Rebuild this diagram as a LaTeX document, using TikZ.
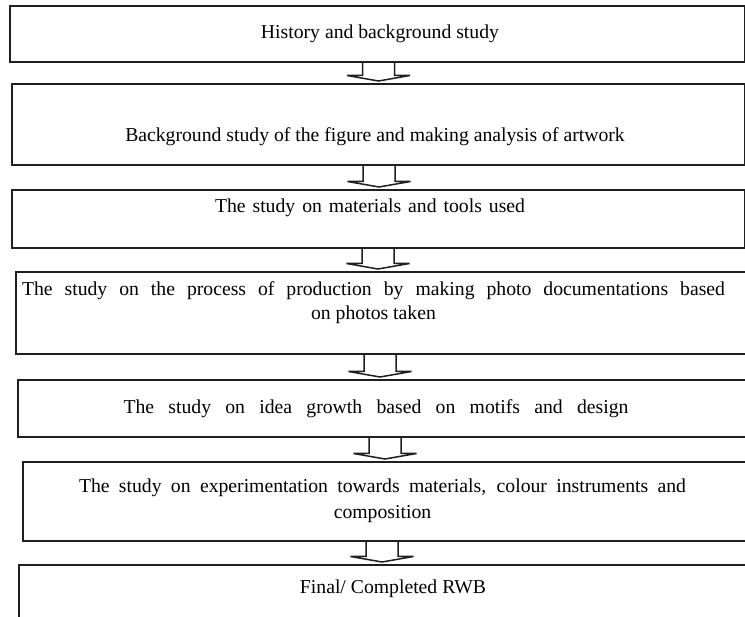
\documentclass[tikz,border=0pt]{standalone}
\usepackage{fontspec}
\setmainfont{Liberation Serif}
\usepackage{tikz}
\usetikzlibrary{positioning}
\usetikzlibrary{calc}

\tikzset{
  stepbox/.style={draw=black!88, line width=2pt, anchor=north west, inner sep=0pt},
  steptext/.style={font=\fontsize{19.7}{24}\selectfont, align=center, inner sep=0pt},
  hollowarrow/.style={draw=black!88, line width=1.5pt, line join=miter}
}

% open block arrow from the bottom of one box to the top of the next
\newcommand{\flowarrow}[3]{%
  \draw[hollowarrow] let \p1=(#1.south -| #3), \p2=(#2.north -| #3) in
    (\x1-16pt,\y1) -- (\x1-16pt,\y2+7.5pt) -- (\x1-31.5pt,\y2+7.5pt) -- (\x1,\y2+2pt)
    -- (\x1+31.5pt,\y2+7.5pt) -- (\x1+16pt,\y2+7.5pt) -- (\x1+16pt,\y1);
}

\begin{document}
\begin{tikzpicture}[x=1pt,y=-1pt]
          \clip (0,0) rectangle (745,617);
          \node[stepbox, minimum width=735pt, minimum height=56pt] (B1) at (9,5) {};
          \node[stepbox, minimum width=733pt, minimum height=81pt] (B2) at (11,83) {};
          \node[stepbox, minimum width=733pt, minimum height=58pt] (B3) at (11,189) {};
          \node[stepbox, minimum width=760pt, minimum height=82pt] (B4) at (15,271) {};
          \node[stepbox, minimum width=760pt, minimum height=57pt] (B5) at (17,379) {};
          \node[stepbox, minimum width=760pt, minimum height=79pt] (B6) at (22,461) {};
          \node[stepbox, minimum width=760pt, minimum height=70pt] (B7) at (18,564) {}; % runs off the page

          \node[steptext] (T1) at (380,34) {History and background study};
          \node[steptext] (T2) at (375,137) {Background study of the figure and making analysis of artwork};
          \node[steptext] (T3) at (370,208) {\makebox[310pt][s]{The study on materials and tools used}};
          \node[steptext] (T4) at (373.5,303) {\makebox[703pt][s]{The study on the process of production by making photo documentations based}\\on photos taken};
          \node[steptext] (T5) at (376,409) {\makebox[505pt][s]{The study on idea growth based on motifs and design}};
          \node[steptext, font=\fontsize{19.7}{25.5}\selectfont] (T6) at (382.5,501) {\makebox[607pt][s]{The study on experimentation towards materials, colour instruments and}\\composition};
          \node[steptext] (T7) at (393,589) {Final/ Completed RWB};

          \coordinate (A1) at (378.5,0);
          \coordinate (A2) at (379,0);
          \coordinate (A3) at (378,0);
          \coordinate (A4) at (380,0);
          \coordinate (A5) at (385,0);
          \coordinate (A6) at (382,0);

          \flowarrow{B1}{B2}{A1}
          \flowarrow{B2}{B3}{A2}
          \flowarrow{B3}{B4}{A3}
          \flowarrow{B4}{B5}{A4}
          \flowarrow{B5}{B6}{A5}
          \flowarrow{B6}{B7}{A6}
        \end{tikzpicture}
\end{document}
